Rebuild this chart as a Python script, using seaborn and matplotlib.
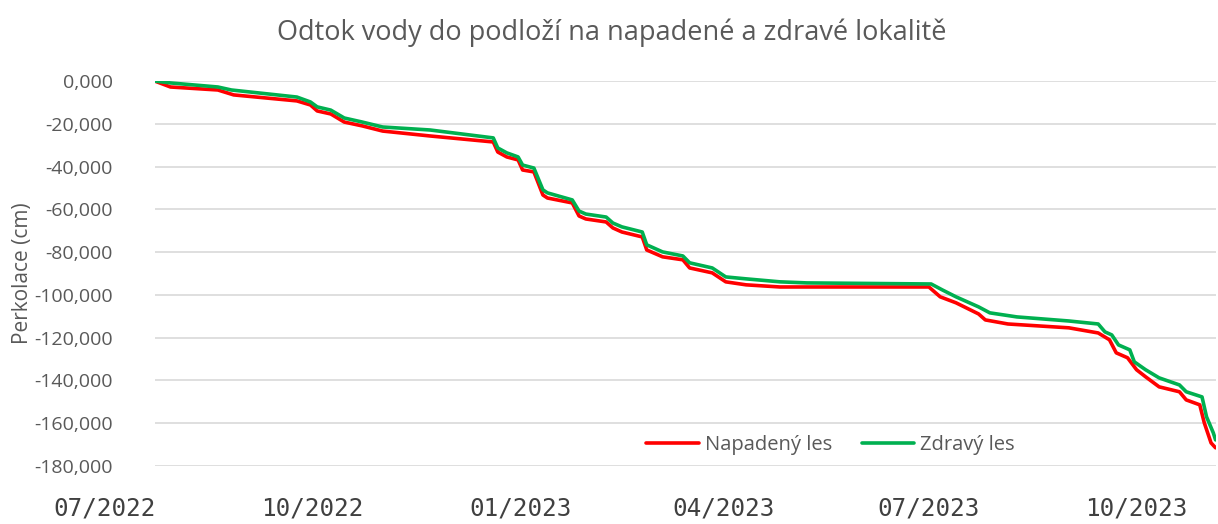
import pandas as pd
import numpy as np
import matplotlib.pyplot as plt
import seaborn as sns

# Napadený les (red)
red_dates = ['2022-07-23', '2022-07-30', '2022-08-20', '2022-08-27', '2022-09-24', '2022-09-30',
             '2022-10-03', '2022-10-09', '2022-10-15', '2022-10-23', '2022-11-01', '2022-11-22',
             '2022-12-20', '2022-12-22', '2022-12-26', '2022-12-31', '2023-01-02', '2023-01-07',
             '2023-01-11', '2023-01-13', '2023-01-24', '2023-01-27', '2023-01-30', '2023-02-08',
             '2023-02-11', '2023-02-15', '2023-02-24', '2023-02-26', '2023-03-05', '2023-03-14',
             '2023-03-17', '2023-03-27', '2023-04-02', '2023-04-11', '2023-04-26', '2023-07-01',
             '2023-07-06', '2023-07-13', '2023-07-23', '2023-07-26', '2023-08-05', '2023-09-01',
             '2023-09-14', '2023-09-19', '2023-09-22', '2023-09-27', '2023-10-01', '2023-10-05',
             '2023-10-11', '2023-10-20', '2023-10-23', '2023-10-29', '2023-10-31', '2023-11-03',
             '2023-11-05']
red_vals = [0.0, -2.8, -4.2, -6.5, -9.3, -11.2,
            -14.0, -15.4, -19.2, -21.0, -23.4, -25.7,
            -28.5, -33.2, -35.5, -36.9, -41.6, -42.5,
            -53.3, -54.7, -57.0, -63.1, -64.5, -65.9,
            -68.7, -70.6, -72.9, -79.0, -82.2, -83.6,
            -87.4, -89.7, -93.9, -95.3, -96.3, -96.3,
            -100.9, -103.7, -108.9, -111.7, -113.6, -115.4,
            -117.8, -121.0, -127.1, -129.4, -135.0, -138.3,
            -143.0, -145.3, -149.1, -151.4, -159.8, -169.2,
            -171.5]

# Zdravý les (green)
green_dates = ['2022-07-23', '2022-07-30', '2022-08-20', '2022-08-26', '2022-09-24', '2022-09-30',
               '2022-10-03', '2022-10-09', '2022-10-15', '2022-10-23', '2022-11-01', '2022-11-22',
               '2022-12-20', '2022-12-22', '2022-12-26', '2022-12-31', '2023-01-02', '2023-01-07',
               '2023-01-11', '2023-01-13', '2023-01-24', '2023-01-27', '2023-01-30', '2023-02-08',
               '2023-02-11', '2023-02-15', '2023-02-24', '2023-02-26', '2023-03-05', '2023-03-14',
               '2023-03-17', '2023-03-27', '2023-04-02', '2023-04-11', '2023-04-26', '2023-05-08',
               '2023-07-02', '2023-07-07', '2023-07-13', '2023-07-23', '2023-07-28', '2023-08-09',
               '2023-09-01', '2023-09-14', '2023-09-17', '2023-09-20', '2023-09-23', '2023-09-28',
               '2023-09-30', '2023-10-05', '2023-10-11', '2023-10-20', '2023-10-23', '2023-10-30',
               '2023-11-01', '2023-11-04', '2023-11-05']
green_vals = [0.0, -0.9, -2.8, -4.2, -7.5, -9.8,
              -12.1, -13.6, -17.3, -19.2, -21.5, -22.9,
              -26.6, -31.3, -33.6, -35.5, -39.3, -40.7,
              -50.9, -52.3, -55.6, -60.8, -62.2, -63.6,
              -66.4, -68.2, -70.6, -76.6, -79.9, -81.8,
              -85.0, -87.4, -91.6, -92.5, -93.9, -94.4,
              -94.9, -97.7, -100.9, -105.6, -108.4, -110.3,
              -112.2, -113.6, -117.3, -118.7, -123.4, -125.7,
              -131.3, -135.0, -138.8, -142.1, -145.3, -147.7,
              -157.0, -164.5, -167.8]

series_names = ['Napadený les', 'Zdravý les']
series_colors = ['#FF0000', '#00B050']

tick_dates = ['2022-07-01', '2022-10-01', '2023-01-01', '2023-04-01', '2023-07-01', '2023-10-01']
tick_labels = ['07/2022', '10/2022', '01/2023', '04/2023', '07/2023', '10/2023']
y_ticks = np.arange(-180, 1, 20)

df = pd.concat([
    pd.DataFrame({'datum': pd.to_datetime(red_dates), 'perkolace': red_vals, 'les': series_names[0]}),
    pd.DataFrame({'datum': pd.to_datetime(green_dates), 'perkolace': green_vals, 'les': series_names[1]}),
])

sns.set_style('white')
plt.rcParams['font.family'] = ['Open Sans', 'DejaVu Sans']
text_color = '#595959'

x_start = pd.Timestamp(red_dates[0])
x_end = pd.Timestamp(red_dates[-1])
label_start = pd.Timestamp(tick_dates[0])

fig = plt.figure(figsize=(12.18, 5.24), dpi=100)
left, bottom, width, height = 0.127, 0.1107, 0.871, 0.7347
ax = fig.add_axes([left, bottom, width, height])

sns.lineplot(data=df, x='datum', y='perkolace', hue='les', palette=series_colors,
             hue_order=series_names, linewidth=2.6, ax=ax, legend=True)

ax.set_xlim(x_start, x_end)
ax.set_ylim(-180, 0)
ax.set_yticks(y_ticks)
ax.set_yticklabels([f'{v:.3f}'.replace('.', ',') for v in y_ticks], fontsize=14, color=text_color)
ax.set_xticks([])
ax.tick_params(axis='y', length=0, pad=30)
ax.grid(axis='y', color='#D9D9D9', linewidth=1.2)
ax.set_axisbelow(True)
for s in ax.spines.values():
    s.set_visible(False)
ax.set_xlabel('')
ax.set_ylabel('Perkolace (cm)', fontsize=15, color=text_color, labelpad=1)

# the date labels in the original sit on a wider band than the plot area
per_day = width / (x_end - x_start).days
extra = (x_start - label_start).days * per_day
lab = fig.add_axes([left - extra, bottom, width + extra, height])
lab.set_xlim(label_start, x_end)
lab.patch.set_visible(False)
lab.set_yticks([])
for s in lab.spines.values():
    s.set_visible(False)
lab.set_xticks(pd.to_datetime(tick_dates))
lab.set_xticklabels(tick_labels, fontsize=17.5, color='#404040', family='DejaVu Sans Mono')
lab.tick_params(axis='x', length=0, pad=22)

fig.suptitle('Odtok vody do podloží na napadené a zdravé lokalitě', x=0.502, y=0.965,
             fontsize=19.5, color=text_color)

ax.legend(loc='center', bbox_to_anchor=(0.682, 0.151), bbox_transform=fig.transFigure,
          ncol=2, frameon=False, fontsize=14.5, handlelength=2.6, handletextpad=0.3,
          columnspacing=1.5, borderaxespad=0, labelcolor=text_color)

fig.savefig('out.png', dpi=100)
